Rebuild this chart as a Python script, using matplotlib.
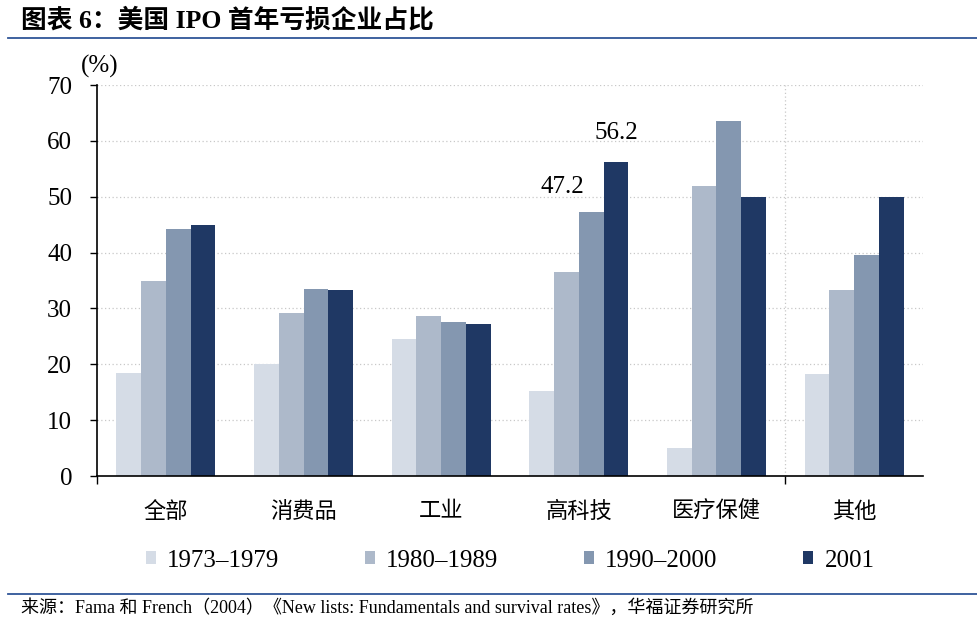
import numpy as np
import matplotlib.pyplot as plt
from matplotlib.patches import Patch
from matplotlib.lines import Line2D

#---Data---
categories = ['全部', '消费品', '工业', '高科技', '医疗保健', '其他']
periods = ['1973–1979', '1980–1989', '1990–2000', '2001']
v_1973 = [18.5, 20.1, 24.5, 15.2, 5.0, 18.3]
v_1980 = [35.0, 29.2, 28.7, 36.5, 52.0, 33.3]
v_1990 = [44.3, 33.5, 27.5, 47.2, 63.5, 39.5]
v_2001 = [45.0, 33.3, 27.3, 56.2, 50.0, 50.0]
colors = ['#D5DCE6', '#ADB9CA', '#8497B0', '#1F3864']
yticks = [0, 10, 20, 30, 40, 50, 60, 70]

serif = ['Liberation Serif', 'Noto Sans CJK SC']
cjk = ['Noto Sans CJK SC', 'DejaVu Sans']

#---Plot---
fig = plt.figure(figsize=(9.77, 6.27), dpi=100)
ax = fig.add_axes([0.0993, 0.2408, 0.8454, 0.6236])

x = np.arange(len(categories))
w = 0.18
series = [v_1973, v_1980, v_1990, v_2001]
for i, vals in enumerate(series):
    ax.bar(x + (i - 1.5) * w, vals, width=w, color=colors[i], zorder=2, linewidth=0)

ax.set_xlim(-0.5, len(categories) - 0.5)
ax.set_ylim(0, 70)
ax.set_yticks(yticks)
ax.set_yticklabels([str(t) for t in yticks], family=serif, fontsize=18)
ax.set_xticks(x)
ax.set_xticklabels(categories, family=cjk, fontsize=16)
ax.tick_params(axis='x', length=0, pad=17)
ax.tick_params(axis='y', direction='out', length=5, width=1, pad=13)
ax.set_xticks([-0.5, 4.5], minor=True)
ax.tick_params(axis='x', which='minor', direction='out', length=6, width=1)

for t in yticks[1:]:
    ax.axhline(t, color='#C8C8C8', linestyle=(0, (1, 2)), linewidth=0.9, zorder=1)
ax.axvline(4.5, color='#C8C8C8', linestyle=(0, (1, 2)), linewidth=0.9, zorder=1)

for s in ['top', 'right']:
    ax.spines[s].set_visible(False)
ax.spines['left'].set_linewidth(1.2)
ax.spines['bottom'].set_linewidth(1.2)

ax.text(-0.48, 71.3, '(%)', family=serif, fontsize=18, ha='center', va='bottom')

# value labels
ax.text(3 + 0.5 * w - 0.21, 51.7, '47.2', family=serif, fontsize=18, ha='center', va='center')
ax.text(3 + 1.5 * w, 61.4, '56.2', family=serif, fontsize=18, ha='center', va='center')

# legend
handles = [Patch(facecolor=c, edgecolor='none') for c in colors]
fig.legend(handles, periods, loc='center', bbox_to_anchor=(0.522, 0.106), ncol=4,
           frameon=False, prop={'family': serif, 'size': 18},
           handlelength=0.42, handleheight=0.42, handletextpad=0.45, columnspacing=3.4)

# title and source
fig.text(0.022, 0.968, '图表 6：美国 IPO 首年亏损企业占比', family=serif, fontsize=18.5,
         fontweight='bold', ha='left', va='center')
fig.add_artist(Line2D([0.008, 1.0], [0.94, 0.94], color='#2F5597', linewidth=1.3))
fig.add_artist(Line2D([0.008, 1.0], [0.052, 0.052], color='#2F5597', linewidth=1.3))
fig.text(0.022, 0.03, '来源：Fama 和 French（2004）《New lists: Fundamentals and survival rates》，华福证券研究所',
         family=serif, fontsize=13, ha='left', va='center')

fig.savefig('out.png', dpi=100)
